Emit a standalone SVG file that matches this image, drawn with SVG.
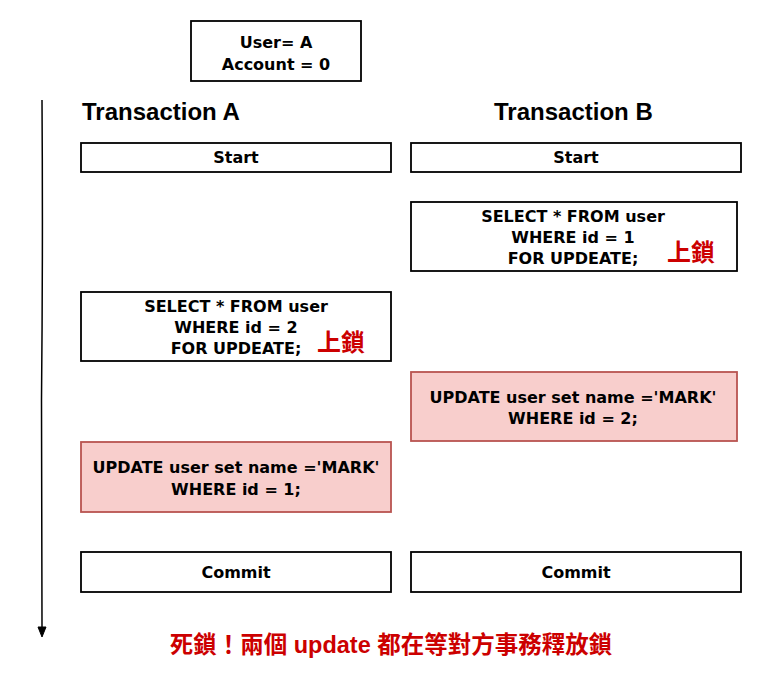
<svg xmlns="http://www.w3.org/2000/svg" width="762" height="682" viewBox="0 0 762 682">
<style>
.box{fill:#ffffff;stroke:#000000;stroke-width:1.8}
.pink{fill:#f8cecc;stroke:#b85450;stroke-width:1.8}
.t{font-family:"DejaVu Sans","Liberation Sans",sans-serif;font-weight:bold;font-size:16px;fill:#000;text-anchor:middle}
.h{font-family:"Liberation Sans","Noto Sans",sans-serif;font-weight:bold;font-size:24px;fill:#000}
.red{font-family:"Liberation Sans","Noto Sans CJK TC",sans-serif;font-weight:bold;fill:#cc0000}
</style>
<rect width="762" height="682" fill="#ffffff"/>
<g id="connectors">
<path d="M42 100 Q43 250 41.5 400 Q42 520 42 628" fill="none" stroke="#000" stroke-width="1.5"/>
<path d="M38 627 L42 637 L46 627 Z" fill="#000" stroke="#000" stroke-width="1"/>
</g>
<g id="state">
<rect class="box" x="191" y="21" width="170" height="60"/>
<text class="t" x="276" y="48">User= A</text>
<text class="t" x="276" y="70">Account = 0</text>
</g>
<g id="titleA"><text class="h" x="82" y="120">Transaction A</text></g>
<g id="titleB"><text class="h" x="494" y="120">Transaction B</text></g>
<g id="startA">
<rect class="box" x="81" y="143" width="310" height="29"/>
<text class="t" x="236" y="163">Start</text>
</g>
<g id="startB">
<rect class="box" x="411" y="143" width="330" height="29"/>
<text class="t" x="576" y="163">Start</text>
</g>
<g id="selectB">
<rect class="box" x="411" y="202" width="326" height="69"/>
<text class="t" x="573" y="222">SELECT * FROM user</text>
<text class="t" x="573" y="243">WHERE id = 1</text>
<text class="t" x="573" y="264">FOR UPDEATE;</text>
<text class="red" x="667" y="261" font-size="24">上鎖</text>
</g>
<g id="selectA">
<rect class="box" x="81" y="292" width="310" height="69"/>
<text class="t" x="236" y="312">SELECT * FROM user</text>
<text class="t" x="236" y="333">WHERE id = 2</text>
<text class="t" x="236" y="354">FOR UPDEATE;</text>
<text class="red" x="317" y="351" font-size="24">上鎖</text>
</g>
<g id="updateB">
<rect class="pink" x="411" y="372" width="326" height="69"/>
<text class="t" x="573" y="403">UPDATE user set name ='MARK'</text>
<text class="t" x="573" y="424">WHERE id = 2;</text>
</g>
<g id="updateA">
<rect class="pink" x="81" y="442" width="310" height="70"/>
<text class="t" x="236" y="473">UPDATE user set name ='MARK'</text>
<text class="t" x="236" y="495">WHERE id = 1;</text>
</g>
<g id="commitA">
<rect class="box" x="81" y="552" width="310" height="40"/>
<text class="t" x="236" y="578">Commit</text>
</g>
<g id="commitB">
<rect class="box" x="411" y="552" width="330" height="40"/>
<text class="t" x="576" y="578">Commit</text>
</g>
<g id="note">
<text class="red" x="391" y="653" font-size="23.5" text-anchor="middle">死鎖！兩個 update 都在等對方事務釋放鎖</text>
</g>
</svg>
